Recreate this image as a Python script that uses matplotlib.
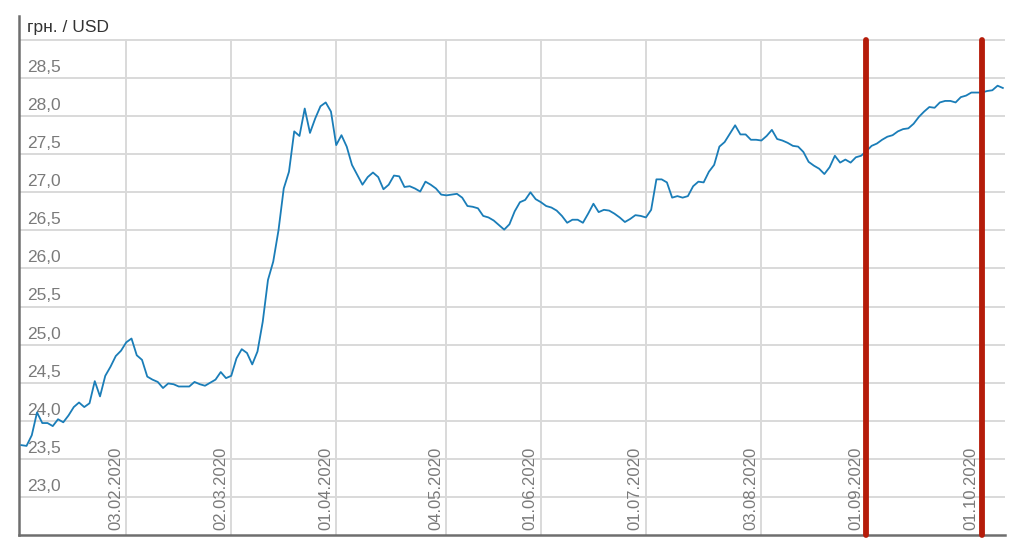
import numpy as np
import matplotlib
matplotlib.use("Agg")
import matplotlib.pyplot as plt

# UAH / USD official rate, one value per trading day (20.01.2020 - 09.10.2020)
rate = [
    23.68, 23.67, 23.81, 24.11, 23.97, 23.97, 23.93, 24.02, 23.98, 24.07,
    24.18, 24.24, 24.18, 24.23, 24.52, 24.32, 24.59, 24.71, 24.85, 24.92,
    25.03, 25.08, 24.86, 24.80, 24.58, 24.54, 24.51, 24.43, 24.49, 24.48,
    24.45, 24.45, 24.45, 24.51, 24.48, 24.46, 24.50, 24.54, 24.64, 24.56,
    24.59, 24.82, 24.94, 24.89, 24.74, 24.91, 25.30, 25.85, 26.09, 26.50,
    27.05, 27.27, 27.80, 27.74, 28.10, 27.78, 27.97, 28.13, 28.18, 28.06,
    27.62, 27.75, 27.60, 27.36, 27.23, 27.10, 27.20, 27.26, 27.20, 27.04,
    27.10, 27.22, 27.21, 27.07, 27.08, 27.05, 27.01, 27.14, 27.10, 27.05,
    26.97, 26.96, 26.97, 26.98, 26.93, 26.82, 26.81, 26.79, 26.69, 26.67,
    26.63, 26.57, 26.51, 26.58, 26.75, 26.87, 26.90, 27.00, 26.91, 26.87,
    26.82, 26.80, 26.76, 26.69, 26.60, 26.64, 26.64, 26.60, 26.72, 26.85,
    26.74, 26.77, 26.76, 26.72, 26.67, 26.61, 26.65, 26.70, 26.69, 26.67,
    26.77, 27.17, 27.17, 27.13, 26.93, 26.95, 26.93, 26.95, 27.08, 27.14,
    27.13, 27.27, 27.36, 27.60, 27.66, 27.77, 27.88, 27.76, 27.76, 27.69,
    27.69, 27.68, 27.74, 27.82, 27.70, 27.68, 27.65, 27.61, 27.60, 27.53,
    27.40, 27.35, 27.31, 27.24, 27.33, 27.48, 27.39, 27.43, 27.39, 27.46,
    27.48, 27.54, 27.61, 27.64, 27.69, 27.73, 27.75, 27.80, 27.83, 27.84,
    27.90, 27.99, 28.06, 28.12, 28.11, 28.18, 28.20, 28.20, 28.18, 28.25,
    28.27, 28.31, 28.31, 28.31, 28.33, 28.34, 28.40, 28.37,
]

# date labels and the trading-day index where each one falls
tick_labels = ["03.02.2020", "02.03.2020", "01.04.2020", "04.05.2020", "01.06.2020",
               "01.07.2020", "03.08.2020", "01.09.2020", "01.10.2020"]
tick_idx = [20, 40, 60, 81, 99, 119, 141, 161, 183]

# dates marked with red bars
marked = ["01.09.2020", "01.10.2020"]

y_levels = [23.0, 23.5, 24.0, 24.5, 25.0, 25.5, 26.0, 26.5, 27.0, 27.5, 28.0, 28.5]
y_top = 29.0
unit_label = "грн. / USD"

plt.rcParams['font.family'] = ['Liberation Sans', 'DejaVu Sans']

fig = plt.figure(figsize=(10.11, 5.41), dpi=100)
ax = fig.add_axes([0.0183, 0.0111, 0.9757, 0.9593])

x = np.arange(len(rate))
ax.set_xlim(-0.53, 187.4)
ax.set_ylim(22.5, 29.315)

grid_c = "#d9d9d9"
label_c = "#7a7a7a"

# horizontal grid
for v in y_levels + [y_top]:
    ax.axhline(v, color=grid_c, lw=1.4, zorder=1)
# vertical grid at the dated ticks
for i in tick_idx:
    ax.plot([i, i], [22.5, y_top], color=grid_c, lw=1.4, zorder=1)

# the rate line
ax.plot(x, rate, color="#1a7db8", lw=1.3, zorder=3)

# red marks
for m in marked:
    i = tick_idx[tick_labels.index(m)]
    ax.plot([i, i], [22.5, y_top], color="#b51c0a", lw=4.2,
            solid_capstyle="round", zorder=4, clip_on=False)

# y labels drawn inside the plot, above their grid lines
for v in y_levels:
    ax.text(1.2, v + 0.04, f"{v:.1f}".replace(".", ","), color=label_c,
            fontsize=12.5, ha="left", va="bottom", zorder=2)
ax.text(1.0, y_top + 0.07, unit_label, color="#333333", fontsize=12.5,
        ha="left", va="bottom")

# x labels rotated, inside the plot at the bottom
for i, lab in zip(tick_idx, tick_labels):
    ax.text(i - 0.6, 22.565, lab, color=label_c, fontsize=12,
            rotation=90, ha="right", va="bottom", zorder=2)

ax.set_xticks([])
ax.set_yticks([])
for s in ["top", "right"]:
    ax.spines[s].set_visible(False)
for s in ["left", "bottom"]:
    ax.spines[s].set_color("#6e6e6e")
    ax.spines[s].set_linewidth(1.8)

fig.savefig("out.png", dpi=100)
